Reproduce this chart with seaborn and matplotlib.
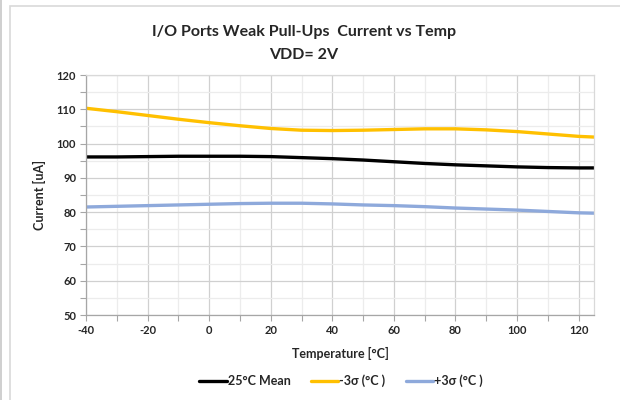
import pandas as pd
import numpy as np
import matplotlib.pyplot as plt
import seaborn as sns
from matplotlib.patches import Rectangle
from matplotlib.ticker import MultipleLocator

# values
temps = [-40, -30, -20, -10, 0, 10, 20, 30, 40, 50, 60, 70, 80, 90, 100, 110, 120, 125]
mean_25c = [96.1, 96.1, 96.2, 96.3, 96.3, 96.3, 96.2, 95.9, 95.6, 95.2, 94.7, 94.2, 93.8, 93.5, 93.2, 93.0, 92.9, 92.9]
minus_3s = [110.3, 109.3, 108.2, 107.1, 106.1, 105.2, 104.4, 103.9, 103.8, 103.9, 104.1, 104.3, 104.3, 104.0, 103.5, 102.8, 102.1, 101.9]
plus_3s = [81.5, 81.7, 81.9, 82.1, 82.3, 82.5, 82.6, 82.6, 82.4, 82.1, 81.9, 81.6, 81.2, 80.9, 80.6, 80.2, 79.8, 79.7]
series_names = ['25°C Mean', '-3σ (°C )', '+3σ (°C )']
series_colors = ['#000000', '#FFC000', '#8EA9DB']

df = pd.concat([
    pd.DataFrame({'Temp': temps, 'Current': vals, 'Series': name})
    for name, vals in zip(series_names, [mean_25c, minus_3s, plus_3s])
])

sns.set_style('white')
plt.rcParams['font.family'] = ['Lato', 'DejaVu Sans']
plt.rcParams['font.weight'] = 'bold'
plt.rcParams['axes.unicode_minus'] = False

fig = plt.figure(figsize=(6.2, 4.0), dpi=100)
ax = fig.add_axes([86 / 620, 1 - 315 / 400, (594 - 86) / 620, 240 / 400])

# chart frame like the spreadsheet export
fig.patches.append(Rectangle((10 / 620, -0.1), 1.0, 1 - 6 / 400 + 0.1, transform=fig.transFigure,
                             fill=False, edgecolor='#d9d9d9', linewidth=1.2))
fig.patches.append(Rectangle((0, 0), 2 / 620, 1, transform=fig.transFigure,
                             facecolor='#d0d0d0', edgecolor='none'))

sns.lineplot(data=df, x='Temp', y='Current', hue='Series', hue_order=series_names,
             palette=series_colors, linewidth=2.4, ax=ax, legend=False)

ax.set_xlim(-40, 125)
ax.set_ylim(50, 120)
ax.xaxis.set_major_locator(MultipleLocator(20))
ax.xaxis.set_minor_locator(MultipleLocator(10))
ax.yaxis.set_major_locator(MultipleLocator(10))
ax.yaxis.set_minor_locator(MultipleLocator(5))
ax.grid(True, which='major', color='#d0d0d0', linewidth=0.9)
ax.grid(True, which='minor', color='#ececec', linewidth=0.9)
ax.set_axisbelow(True)

for side in ['top', 'right']:
    ax.spines[side].set_color('#d9d9d9')
for side in ['left', 'bottom']:
    ax.spines[side].set_color('#a6a6a6')
for sp in ax.spines.values():
    sp.set_linewidth(0.9)

ax.tick_params(which='both', direction='out', color='#a6a6a6', length=4, width=0.8,
               left=True, bottom=True, labelsize=8, pad=3)

ax.set_xlabel('Temperature [°C]', fontsize=9, fontweight='bold', labelpad=8)
ax.set_ylabel('Current [uA]', fontsize=9, fontweight='bold', labelpad=8)

fig.text(0.49, 1 - 32 / 400, 'I/O Ports Weak Pull-Ups  Current vs Temp',
         ha='center', va='center', fontsize=11.5, fontweight='bold')
fig.text(0.49, 1 - 55 / 400, 'VDD= 2V', ha='center', va='center',
         fontsize=11.5, fontweight='bold')

handles = [plt.Line2D([], [], color=c, linewidth=2.4) for c in series_colors]
fig.legend(handles, series_names, loc='center', bbox_to_anchor=(0.55, 1 - 381 / 400),
           ncol=3, frameon=False, handlelength=2.2, handletextpad=0.1, columnspacing=1.6,
           prop={'size': 9, 'weight': 'bold'})

fig.savefig('out.png', dpi=100)
